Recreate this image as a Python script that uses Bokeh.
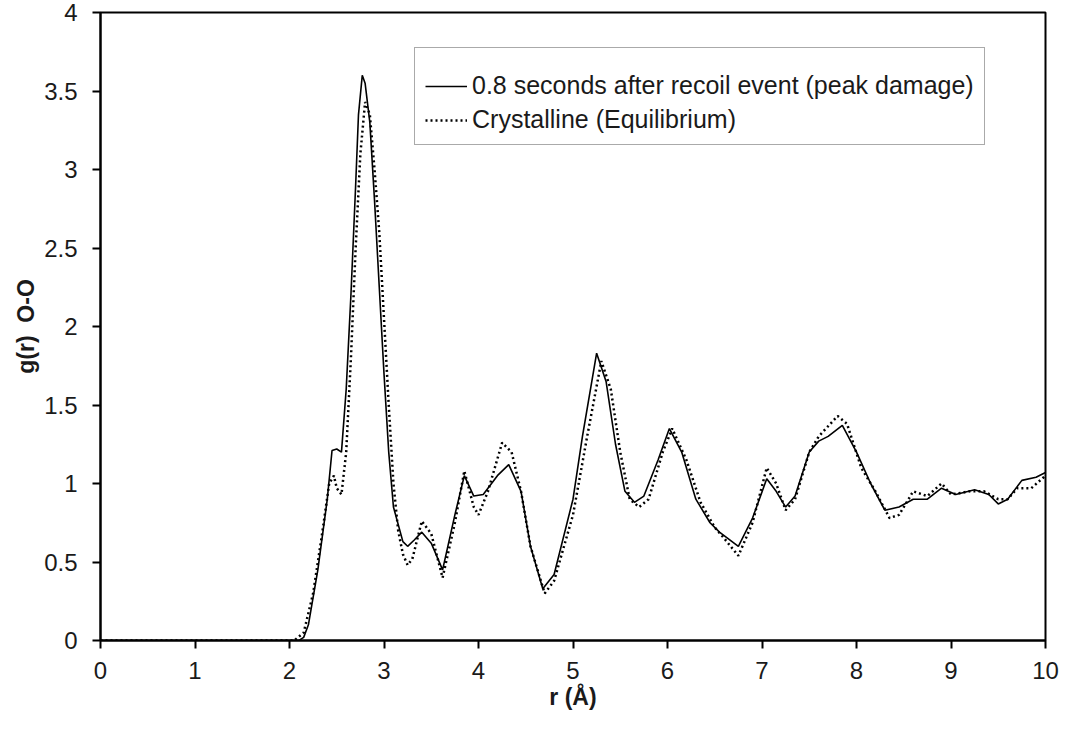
from bokeh.plotting import figure
from bokeh.models import FixedTicker, Legend, LegendItem
from bokeh.embed import file_html
from bokeh.resources import INLINE

# Solid: 0.8 seconds after recoil event (peak damage)
r_damage = [0.0, 1.0, 2.0, 2.1, 2.15, 2.2, 2.3, 2.4, 2.45, 2.5, 2.55, 2.6, 2.65, 2.7, 2.73, 2.77,
            2.8, 2.85, 2.9, 2.95, 3.0, 3.05, 3.1, 3.2, 3.25, 3.32, 3.4, 3.5, 3.62, 3.75,
            3.85, 3.95, 4.05, 4.2, 4.32, 4.45, 4.55, 4.68, 4.8, 5.0, 5.1, 5.25, 5.35,
            5.45, 5.55, 5.65, 5.75, 5.9, 6.02, 6.15, 6.3, 6.45, 6.55, 6.75, 6.9, 7.05,
            7.15, 7.25, 7.35, 7.5, 7.6, 7.7, 7.85, 8.0, 8.15, 8.3, 8.45, 8.6, 8.75, 8.9,
            9.05, 9.25, 9.4, 9.5, 9.6, 9.75, 9.9, 10.0]
g_damage = [0.0, 0.0, 0.0, 0.0, 0.02, 0.1, 0.45, 0.9, 1.21, 1.22, 1.2, 1.6, 2.2, 2.9, 3.35, 3.6,
            3.55, 3.3, 2.8, 2.25, 1.7, 1.2, 0.85, 0.63, 0.6, 0.64, 0.69, 0.62, 0.45, 0.8,
            1.05, 0.92, 0.93, 1.05, 1.12, 0.95, 0.6, 0.33, 0.42, 0.9, 1.3, 1.83, 1.65,
            1.25, 0.95, 0.88, 0.92, 1.15, 1.35, 1.2, 0.9, 0.75, 0.69, 0.6, 0.78, 1.03,
            0.95, 0.85, 0.92, 1.2, 1.27, 1.3, 1.37, 1.2, 1.0, 0.83, 0.85, 0.9, 0.9, 0.97,
            0.93, 0.96, 0.93, 0.87, 0.9, 1.02, 1.04, 1.07]

# Dotted: Crystalline (Equilibrium)
r_cryst = [0.0, 1.0, 2.0, 2.05, 2.15, 2.25, 2.35, 2.42, 2.47, 2.5, 2.55, 2.6, 2.65, 2.7, 2.75,
           2.8, 2.85, 2.9, 2.95, 3.0, 3.05, 3.1, 3.15, 3.2, 3.25, 3.3, 3.4, 3.5, 3.62,
           3.75, 3.85, 3.95, 4.0, 4.1, 4.25, 4.35, 4.45, 4.55, 4.7, 4.8, 5.0, 5.15, 5.3,
           5.4, 5.5, 5.6, 5.7, 5.8, 5.95, 6.05, 6.2, 6.35, 6.5, 6.6, 6.75, 6.9, 7.05,
           7.15, 7.25, 7.35, 7.5, 7.6, 7.8, 7.9, 8.05, 8.2, 8.35, 8.45, 8.6, 8.75, 8.9,
           9.0, 9.2, 9.35, 9.5, 9.6, 9.7, 9.85, 10.0]
g_cryst = [0.0, 0.0, 0.0, 0.0, 0.05, 0.3, 0.7, 1.0, 1.05, 0.97, 0.93, 1.2, 1.8, 2.5, 3.1,
           3.43, 3.35, 3.0, 2.6, 2.05, 1.5, 1.0, 0.7, 0.55, 0.48, 0.52, 0.76, 0.68, 0.4,
           0.75, 1.08, 0.85, 0.8, 0.95, 1.26, 1.2, 0.95, 0.6, 0.3, 0.38, 0.8, 1.3, 1.78,
           1.6, 1.2, 0.9, 0.85, 0.9, 1.2, 1.35, 1.15, 0.88, 0.72, 0.65, 0.54, 0.75, 1.1,
           1.0, 0.83, 0.9, 1.2, 1.3, 1.43, 1.38, 1.1, 0.95, 0.78, 0.8, 0.95, 0.92, 1.0,
           0.93, 0.95, 0.95, 0.9, 0.9, 0.97, 0.97, 1.05]

x_ticks = [0, 1, 2, 3, 4, 5, 6, 7, 8, 9, 10]
y_ticks = [0, 0.5, 1, 1.5, 2, 2.5, 3, 3.5, 4]
y_tick_labels = ["0", "0.5", "1", "1.5", "2", "2.5", "3", "3.5", "4"]

label_font = "Liberation Sans"

p = figure(width=1068, height=733, x_range=(0, 10), y_range=(0, 4),
           output_backend="svg", toolbar_location=None,
           min_border_left=100, min_border_right=23, min_border_top=12, min_border_bottom=93)
p.background_fill_color = "white"
p.border_fill_color = "white"
p.outline_line_color = "black"
p.outline_line_width = 2
p.xgrid.visible = False
p.ygrid.visible = False

r1 = p.line(r_damage, g_damage, line_color="black", line_width=1.6)
r2 = p.line(r_cryst, g_cryst, line_color="black", line_width=2.5, line_dash="2 3")

for ax in (p.xaxis[0], p.yaxis[0]):
    ax.axis_line_width = 2
    ax.axis_line_color = "black"
    ax.major_tick_line_width = 2
    ax.major_tick_out = 8
    ax.major_tick_in = 0
    ax.minor_tick_line_color = None
    ax.major_label_text_font = label_font
    ax.major_label_text_font_size = "24px"
    ax.major_label_text_color = "#1a1a1a"
    ax.axis_label_text_font = label_font
    ax.axis_label_text_font_size = "23px"
    ax.axis_label_text_font_style = "bold"
    ax.axis_label_text_color = "#1a1a1a"

p.xaxis[0].ticker = FixedTicker(ticks=x_ticks)
p.yaxis[0].ticker = FixedTicker(ticks=y_ticks)
p.yaxis[0].major_label_overrides = {t: s for t, s in zip(y_ticks, y_tick_labels)}
p.xaxis[0].axis_label = "r (Å)"
p.yaxis[0].axis_label = "g(r)\u00a0 O-O"
p.xaxis[0].major_label_standoff = 13
p.yaxis[0].major_label_standoff = 15
p.xaxis[0].axis_label_standoff = 2
p.yaxis[0].axis_label_standoff = 2

legend = Legend(items=[
    LegendItem(label="0.8 seconds after recoil event (peak damage)", renderers=[r1]),
    LegendItem(label="Crystalline (Equilibrium)", renderers=[r2]),
], location=(314, 495))
legend.title = " "
legend.title_text_font_size = "10px"
legend.title_standoff = 2
legend.label_text_font = label_font
legend.label_text_font_size = "25px"
legend.label_text_color = "#1a1a1a"
legend.glyph_width = 42
legend.glyph_height = 24
legend.label_height = 24
legend.label_standoff = 5
legend.spacing = 5
legend.padding = 10
legend.margin = 0
legend.border_line_color = "#555555"
legend.border_line_width = 1
legend.background_fill_alpha = 1.0
p.add_layout(legend, "center")

open("out.html", "w").write(file_html(p, INLINE))
